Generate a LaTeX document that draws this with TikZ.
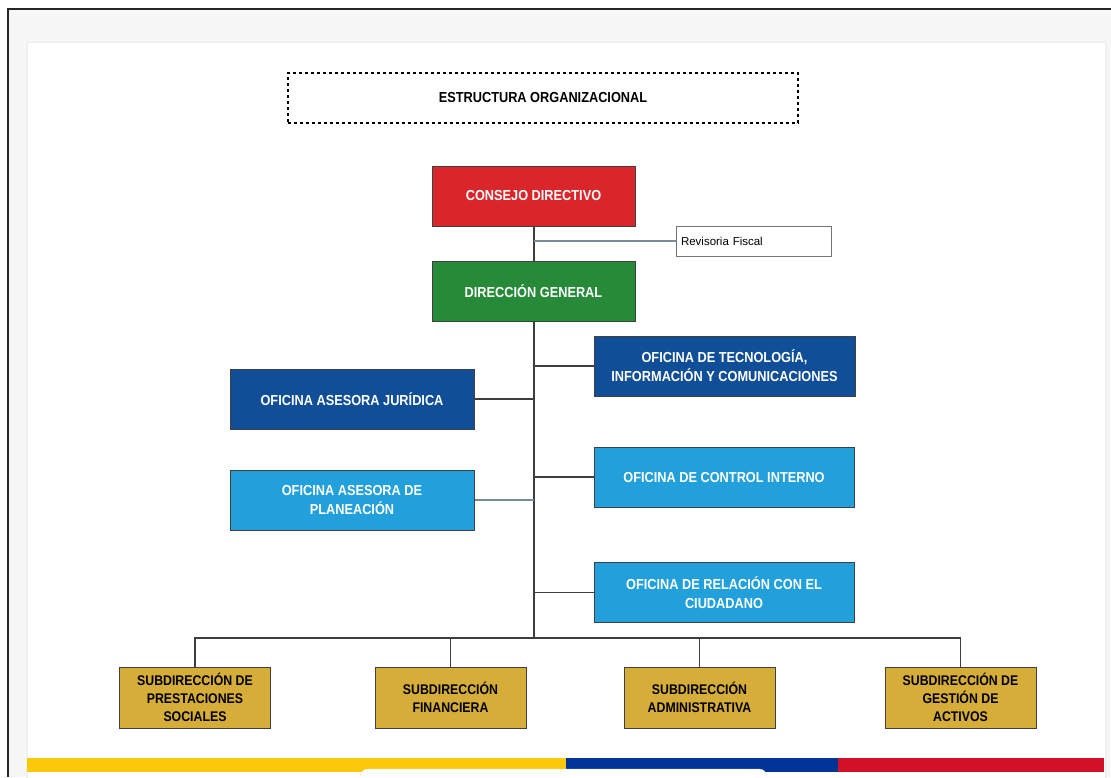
\documentclass[tikz,border=0pt]{standalone}
\usepackage{fontspec}
\setmainfont{Liberation Sans}
\newfontfamily\orgfont{Liberation Sans}[FakeStretch=0.88]
\usepackage{xcolor}
\usetikzlibrary{
  calc,
  positioning
}
\definecolor{consejored}{RGB}{218,37,42}
\definecolor{dirgreen}{RGB}{38,138,56}
\definecolor{ofidark}{RGB}{16,78,152}
\definecolor{ofilight}{RGB}{34,160,220}
\definecolor{subgold}{RGB}{213,173,56}
\definecolor{linegray}{RGB}{62,62,62}
\definecolor{softline}{RGB}{120,140,150}
\definecolor{flagyellow}{RGB}{252,200,10}
\definecolor{flagblue}{RGB}{0,52,150}
\definecolor{flagred}{RGB}{210,16,40}
\definecolor{pagegray}{RGB}{247,247,247}
\tikzset{
  orgtext/.style={ font=\orgfont\bfseries\fontsize{14.5}{19}\selectfont },
  unit/.style={
    draw=black!75,
    fill=#1,
    line width=1pt,
    minimum height=60pt,
    align=center,
    inner sep=3pt,
    text=white,
    orgtext
  },
  subunit/.style={
    draw=black!75,
    fill=subgold,
    line width=1pt,
    minimum width=151pt,
    minimum height=61pt,
    align=center,
    inner sep=2pt,
    text=black,
    font=\orgfont\bfseries\fontsize{14}{18}\selectfont
  },
  link/.style={
    line width=1.6pt,
    draw=linegray
  },
  softlink/.style={
    line width=1.6pt,
    draw=softline
  }
}

\begin{document}
\begin{tikzpicture}[x=1pt, y=-1pt]
  \useasboundingbox (0,0) rectangle (1111,777);
  % page and frame
  \fill[white] (0,0) rectangle (1111,777);
  \fill[pagegray] (8,9) rectangle (1111,777);
  \fill[white, draw=black!6, line width=1.5pt] (27,42) rectangle (1106,790);
  \draw[black!85, line width=2.6pt] (8,777) -- (8,9) -- (1111,9);
  % flag stripe
  \fill[flagyellow] (27,758) rectangle (566,772);
  \fill[flagblue] (566,758) rectangle (838,772);
  \fill[flagred] (838,758) rectangle (1104,772);
  \fill[white, draw=black!8, rounded corners=8pt] (360,769) rectangle (767,790);

  \node[draw, dashed, line width=1.5pt, minimum width=510pt, minimum height=50pt,
    orgtext] (titulo) at (543,98) {ESTRUCTURA ORGANIZACIONAL};

  \node[unit=consejored, minimum width=203pt] (consejo) at (533.5,196) {CONSEJO DIRECTIVO};
  \node[draw=black!55, line width=1pt, minimum width=155pt, minimum height=30pt,
    text width=145pt, align=left, inner sep=4pt,
    font=\fontsize{11.5}{14}\selectfont] (revisoria) at (753.5,241) {Revisoria Fiscal};
  \node[unit=dirgreen, minimum width=203pt] (direccion) at (533.5,291) {DIRECCIÓN GENERAL};

  \node[unit=ofidark, minimum width=261pt] (tic) at (724.5,366)
    {OFICINA DE TECNOLOGÍA,\\ INFORMACIÓN Y COMUNICACIONES};
  \node[unit=ofidark, minimum width=244pt] (juridica) at (352,399) {OFICINA ASESORA JURÍDICA};
  \node[unit=ofilight, minimum width=260pt] (control) at (724,477) {OFICINA DE CONTROL INTERNO};
  \node[unit=ofilight, minimum width=244pt] (planeacion) at (352,500)
    {OFICINA ASESORA DE\\ PLANEACIÓN};
  \node[unit=ofilight, minimum width=260pt] (ciudadano) at (724,592.5)
    {OFICINA DE RELACIÓN CON EL\\ CIUDADANO};

  \node[subunit] (prestaciones) at (195,697.5) {SUBDIRECCIÓN DE\\PRESTACIONES\\SOCIALES};
  \node[subunit] (financiera) at (450.5,697.5) {SUBDIRECCIÓN\\FINANCIERA};
  \node[subunit] (administrativa) at (699.5,697.5) {SUBDIRECCIÓN\\ADMINISTRATIVA};
  \node[subunit] (activos) at (960.5,697.5) {SUBDIRECCIÓN DE\\GESTIÓN DE\\ACTIVOS};

  \coordinate (bus) at (534,638);

  % trunk and branches
  \draw[link] (consejo.south -| bus) -- (direccion.north -| bus);
  \draw[softlink] (revisoria.west) -- (revisoria.west -| bus);
  \draw[link] (direccion.south -| bus) -- (bus);
  \draw[link] (tic.west) -- (tic.west -| bus);
  \draw[link] (juridica.east) -- (juridica.east -| bus);
  \draw[link] (control.west) -- (control.west -| bus);
  \draw[softlink] (planeacion.east) -- (planeacion.east -| bus);
  \draw[link] (ciudadano.west) -- (ciudadano.west -| bus);
  \draw[link] (prestaciones.north) -- (prestaciones.north |- bus) -- (activos.north |- bus)
    -- (activos.north);
  \draw[link] (financiera.north) -- (financiera.north |- bus);
  \draw[link] (administrativa.north) -- (administrativa.north |- bus);
\end{tikzpicture}
\end{document}
